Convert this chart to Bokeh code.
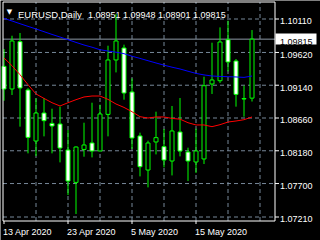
from bokeh.plotting import figure
from bokeh.models import ColumnDataSource, Range1d
from bokeh.embed import file_html
from bokeh.resources import INLINE
from bokeh.core.properties import value

# ---------------- data ----------------
symbol_text = "EURUSD,Daily"
ohlc_text = "1.08951 1.09948 1.08901 1.09815"

dates = ["13 Apr", "14 Apr", "15 Apr", "16 Apr", "17 Apr", "20 Apr", "21 Apr", "22 Apr",
         "23 Apr", "24 Apr", "27 Apr", "28 Apr", "29 Apr", "30 Apr", "1 May", "4 May",
         "5 May", "6 May", "7 May", "8 May", "11 May", "12 May", "13 May", "14 May",
         "15 May", "18 May", "19 May", "20 May", "21 May", "22 May", "25 May", "26 May"]

opens = [1.09416, 1.09085, 1.09778, 1.09070, 1.08323, 1.08733, 1.08581, 1.08572,
         1.08191, 1.07717, 1.08200, 1.08294, 1.08177, 1.08713, 1.09510, 1.09685,
         1.09041, 1.08397, 1.07898, 1.08309, 1.08240, 1.08030, 1.08455, 1.08162,
         1.08016, 1.08060, 1.09158, 1.09206, 1.09807, 1.09495, 1.08938, 1.08951]
highs = [1.09671, 1.09865, 1.09905, 1.09097, 1.08947, 1.08953, 1.08796, 1.08826,
         1.08484, 1.08245, 1.08591, 1.08884, 1.08855, 1.09719, 1.10183, 1.09734,
         1.09240, 1.08445, 1.08328, 1.08752, 1.08499, 1.08836, 1.08953, 1.08225,
         1.08503, 1.09265, 1.09763, 1.09987, 1.10085, 1.09524, 1.09133, 1.09948]
lows = [1.08913, 1.08997, 1.08533, 1.08142, 1.08104, 1.08391, 1.08142, 1.08010,
        1.07532, 1.07254, 1.08093, 1.08083, 1.08170, 1.08391, 1.09328, 1.08928,
        1.08206, 1.07805, 1.07644, 1.08127, 1.07937, 1.07819, 1.08098, 1.07737,
        1.07855, 1.07986, 1.09012, 1.09173, 1.09343, 1.08826, 1.08679, 1.08901]
closes = [1.09085, 1.09788, 1.09100, 1.08376, 1.08733, 1.08621, 1.08543, 1.08221,
          1.07737, 1.08235, 1.08265, 1.08177, 1.08719, 1.09510, 1.09788, 1.09026,
          1.08367, 1.07947, 1.08294, 1.08372, 1.08045, 1.08470, 1.08177, 1.08030,
          1.08177, 1.09133, 1.09217, 1.09773, 1.09480, 1.09006, 1.08945, 1.09815]

ma_red = [1.09539, 1.09426, 1.09294, 1.09148, 1.09012, 1.08947, 1.08884, 1.08836,
          1.08884, 1.08928, 1.08968, 1.08982, 1.08982, 1.08933, 1.08865, 1.08815,
          1.08752, 1.08679, 1.08660, 1.08675, 1.08675, 1.08654, 1.08643, 1.08591,
          1.08558, 1.08558, 1.08533, 1.08562, 1.08601, 1.08616, 1.08635, 1.08675]
ma_blue = [1.10119, 1.10081, 1.10041, 1.10002, 1.09964, 1.09924, 1.09884, 1.09846,
           1.09807, 1.09767, 1.09729, 1.09697, 1.09660, 1.09641, 1.09624, 1.09602,
           1.09565, 1.09533, 1.09499, 1.09466, 1.09434, 1.09404, 1.09378, 1.09345,
           1.09313, 1.09291, 1.09275, 1.09269, 1.09265, 1.09261, 1.09255, 1.09275]

price_ticks = [1.07210, 1.07700, 1.08180, 1.08660, 1.09140, 1.09620, 1.10110]
last_price = 1.09815
last_price_text = "1.09815"
date_ticks = [0, 8, 16, 24]
date_labels = ["13 Apr 2020", "23 Apr 2020", "5 May 2020", "15 May 2020"]
grid_every = 4

# ---------------- layout (pixels) ----------------
W, H = 320, 240
FL, FR, FT, FB = 2.5, 274.5, 1.5, 220.5     # chart box edges
BAR_PX, FIRST_PX = 8.0, 3.5                   # bar spacing / first bar centre
PX_PER_UNIT = 198.0 / (price_ticks[-1] - price_ticks[0])
TOP_TICK_PX = 18.5
LABEL_DROP = 2.4                              # tick label baseline below its tick


def xd(px):
    return (px - FIRST_PX) / BAR_PX


def yd(py):
    return price_ticks[-1] - (py - TOP_TICK_PX) / PX_PER_UNIT


GREEN = "#00ff00"
GRID = "#778899"
FONT = value("Liberation Sans")
FS = value("9px")

p = figure(width=W, height=H, output_backend="svg", toolbar_location=None,
           x_range=Range1d(xd(0), xd(W)), y_range=Range1d(yd(H), yd(0)),
           min_border=0, background_fill_color="black", border_fill_color="black",
           outline_line_color=None, x_axis_type=None, y_axis_type=None)
p.grid.visible = False

n = len(opens)
idx = list(range(n))
grid_x = list(range(grid_every, n + 1, grid_every))

# grid (dashed) inside the chart box
p.segment(x0=[xd(FL)] * len(price_ticks), x1=[xd(FR)] * len(price_ticks),
          y0=price_ticks, y1=price_ticks, line_color=GRID, line_width=1, line_dash="4 3")
p.segment(x0=grid_x, x1=grid_x, y0=[yd(FB)] * len(grid_x), y1=[yd(FT)] * len(grid_x),
          line_color=GRID, line_width=1, line_dash="4 3")

# last price line
p.segment(x0=[xd(FL)], x1=[xd(FR)], y0=[last_price], y1=[last_price],
          line_color="#8c99a6", line_width=1)

# candles
src = ColumnDataSource(dict(
    x=idx, o=opens, h=highs, l=lows, c=closes,
    top=[max(o, c) for o, c in zip(opens, closes)],
    bottom=[min(o, c) for o, c in zip(opens, closes)],
    fill=["black" if c >= o else "white" for o, c in zip(opens, closes)],
))
p.segment(x0="x", y0="h", x1="x", y1="l", source=src, line_color=GREEN, line_width=1)
p.vbar(x="x", top="top", bottom="bottom", width=4.0 / BAR_PX, fill_color="fill",
       line_color=GREEN, line_width=1, source=src)

# moving averages
p.line(idx, ma_red, line_color="#ff0000", line_width=1)
p.line(idx, ma_blue, line_color="#0000ff", line_width=1)

# chart box
p.quad(left=[xd(FL)], right=[xd(FR)], top=[yd(FT)], bottom=[yd(FB)],
       fill_color=None, line_color="white", line_width=1)

# price scale: ticks + labels
p.segment(x0=[xd(FR)] * len(price_ticks), x1=[xd(FR + 4)] * len(price_ticks),
          y0=price_ticks, y1=price_ticks, line_color="white", line_width=1)
p.text(x=[xd(279.5)] * len(price_ticks),
       y=[v - LABEL_DROP / PX_PER_UNIT for v in price_ticks],
       text=["%.5f" % v for v in price_ticks], text_color="white",
       text_font=FONT, text_font_size=FS, text_align="left", text_baseline="alphabetic")

# current price box
p.quad(left=[xd(275)], right=[xd(316)], top=[last_price + 5.6 / PX_PER_UNIT],
       bottom=[last_price - 5.4 / PX_PER_UNIT], fill_color="white", line_color=None)
p.text(x=[xd(279.5)], y=[last_price - LABEL_DROP / PX_PER_UNIT], text=[last_price_text],
       text_color="black", text_font=FONT, text_font_size=FS,
       text_align="left", text_baseline="alphabetic")

# time scale: ticks + labels
p.segment(x0=date_ticks, x1=date_ticks, y0=[yd(FB)] * len(date_ticks),
          y1=[yd(FB + 3)] * len(date_ticks), line_color="white", line_width=1)
p.text(x=[t - 1.0 / BAR_PX for t in date_ticks], y=[yd(231.7)] * len(date_ticks),
       text=date_labels, text_color="white", text_font=FONT, text_font_size=FS,
       text_align="left", text_baseline="alphabetic")

# title
p.text(x=[xd(9)], y=[yd(11)], text=["\u25bc"], text_color="white",
       text_font=value("DejaVu Sans"), text_font_size=value("7px"),
       text_align="center", text_baseline="middle")
p.text(x=[xd(17.5)], y=[yd(14)], text=[symbol_text], text_color="white",
       text_font=FONT, text_font_size=value("9.5px"), text_align="left",
       text_baseline="alphabetic")
p.text(x=[xd(87.5)], y=[yd(14)], text=[ohlc_text], text_color="white",
       text_font=FONT, text_font_size=FS, text_align="left", text_baseline="alphabetic")

open("out.html", "w").write(file_html(p, INLINE))
